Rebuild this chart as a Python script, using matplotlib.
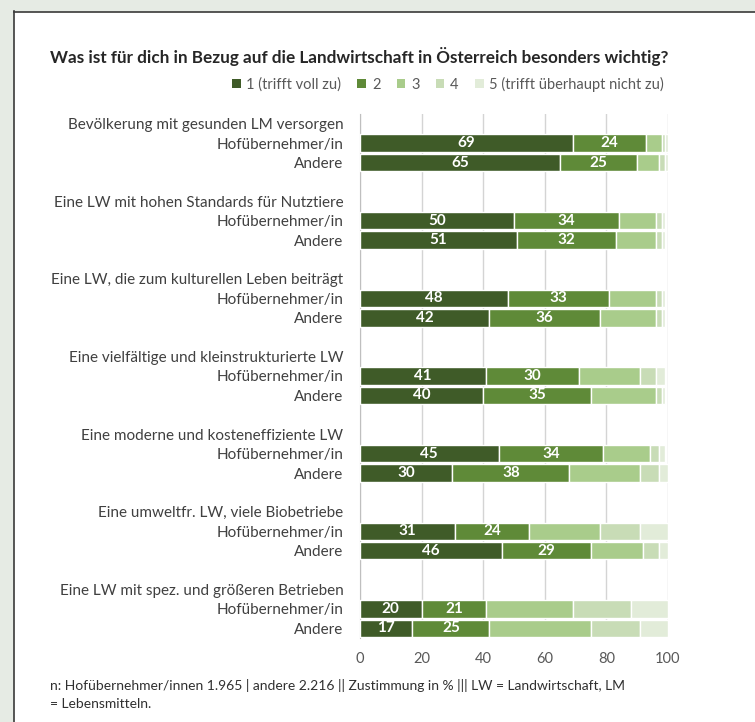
import matplotlib
matplotlib.use("Agg")
from matplotlib import pyplot as plt
from matplotlib.patches import Patch, Rectangle
from matplotlib.lines import Line2D
import numpy as np

plt.rcParams['font.family'] = ['Lato', 'DejaVu Sans']

gruppen = [
    "Bevölkerung mit gesunden LM versorgen",
    "Eine LW mit hohen Standards für Nutztiere",
    "Eine LW, die zum kulturellen Leben beiträgt",
    "Eine vielfältige und kleinstrukturierte LW",
    "Eine moderne und kosteneffiziente LW",
    "Eine umweltfr. LW, viele Biobetriebe",
    "Eine LW mit spez. und größeren Betrieben",
]
befragte = ["Hofübernehmer/in", "Andere"]
stufen = ["1 (trifft voll zu)", "2", "3", "4", "5 (trifft überhaupt nicht zu)"]

# Anteile in % je Stufe 1..5
hof = [
    [69, 24, 5, 1, 1],
    [50, 34, 12, 2, 1],
    [48, 33, 15, 2, 1],
    [41, 30, 20, 5, 3],
    [45, 34, 15, 3, 2],
    [31, 24, 23, 13, 9],
    [20, 21, 28, 19, 12],
]
andere = [
    [65, 25, 7, 2, 1],
    [51, 32, 13, 2, 1],
    [42, 36, 18, 2, 1],
    [40, 35, 21, 2, 1],
    [30, 38, 23, 6, 3],
    [46, 29, 17, 5, 3],
    [17, 25, 33, 16, 9],
]

farben = ["#3f5b28", "#5f8a38", "#a9cc8b", "#c8dcb6", "#e2ecd9"]
textfarbe = "#404040"

fig = plt.figure(figsize=(7.55, 7.22), dpi=100)

# Rahmen
fig.patches.append(Rectangle((0, 0), 13 / 755, 1, transform=fig.transFigure,
                             color="#e6ebe4", zorder=0))
fig.patches.append(Rectangle((0, 1 - 11 / 722), 1, 11 / 722, transform=fig.transFigure,
                             color="#e6ebe4", zorder=0))
fig.lines.append(Line2D([13.5 / 755, 13.5 / 755], [0, 1 - 11 / 722], transform=fig.transFigure,
                        color="#3a3a3a", lw=1.2))
fig.lines.append(Line2D([13.5 / 755, 1], [1 - 11.5 / 722, 1 - 11.5 / 722], transform=fig.transFigure,
                        color="#3a3a3a", lw=1.2))

ax = fig.add_axes([360 / 755, 1 - 638 / 722, 308 / 755, (638 - 114) / 722])

positionen = []
beschriftungen = []
for g, name in enumerate(gruppen):
    basis = g * 4
    positionen.append(basis)
    beschriftungen.append(name)
    for b, werte in enumerate([hof[g], andere[g]]):
        y = basis + 1 + b
        positionen.append(y)
        beschriftungen.append(befragte[b])
        links = 0
        for k, w in enumerate(werte):
            ax.barh(y, w, left=links, height=0.9, color=farben[k],
                    edgecolor="white", linewidth=1, zorder=3)
            if k < 2:
                ax.text(links + w / 2, y, str(w), ha="center", va="center",
                        color="white", fontsize=11, fontweight="bold", zorder=4)
            links += w

ax.set_yticks(positionen)
ax.set_yticklabels(beschriftungen, fontsize=11, color=textfarbe)
ax.set_ylim(len(gruppen) * 4 - 1.5, -0.5)
ax.set_xlim(0, 100)
ax.set_xticks(np.arange(0, 101, 20))
ax.tick_params(axis="x", length=0, labelsize=10.5, labelcolor="#595959", pad=10)
ax.tick_params(axis="y", length=0, pad=12)
ax.grid(axis="x", color="#d4d4d4", linewidth=1, zorder=0)
ax.set_axisbelow(True)
for s in ["top", "right", "bottom"]:
    ax.spines[s].set_visible(False)
ax.spines["left"].set_color("#bfbfbf")

fig.text(50 / 755, 1 - 56 / 722,
         "Was ist für dich in Bezug auf die Landwirtschaft in Österreich besonders wichtig?",
         fontsize=12.3, fontweight="bold", color="#262626", va="center")

griffe = [Patch(facecolor=f, edgecolor="none") for f in farben]
fig.legend(griffe, stufen, loc="center", bbox_to_anchor=(448 / 755, 1 - 84 / 722),
           ncol=5, frameon=False, fontsize=10.5, labelcolor="#595959",
           handlelength=0.6, handleheight=0.6, handletextpad=0.4, columnspacing=1.1)

fig.text(50 / 755, 1 - 686 / 722,
         "n: Hofübernehmer/innen 1.965 | andere 2.216 || Zustimmung in % ||| LW = Landwirtschaft, LM",
         fontsize=10, color="#303030", va="center")
fig.text(50 / 755, 1 - 704 / 722, "= Lebensmitteln.", fontsize=10, color="#303030", va="center")

fig.savefig("out.png", dpi=100)
